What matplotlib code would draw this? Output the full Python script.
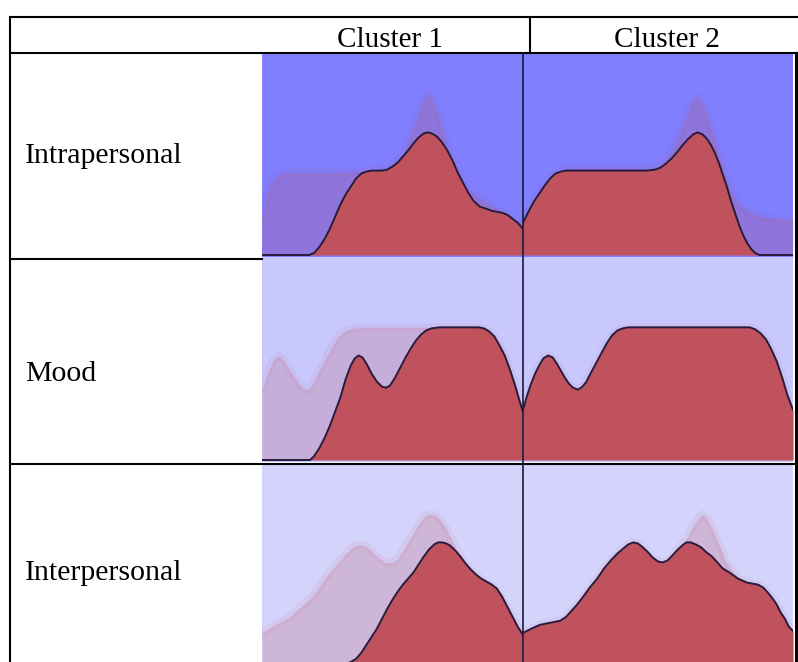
import matplotlib
matplotlib.use("Agg")
import matplotlib.pyplot as plt

# ---------------- data (x: position within cell 0-100, y: relative density) -------------
row_labels = ["Intrapersonal", "Mood", "Interpersonal"]
col_labels = ["Cluster 1", "Cluster 2"]

intra_c1_x = [0, 18, 20, 22, 24, 26, 28, 30, 32, 34, 36, 38, 40, 42, 44, 46, 48, 50, 52, 54, 56, 58, 60, 62, 63.5, 65, 67, 69, 71, 73, 75, 77, 79, 81, 83.5, 86, 88, 90, 92, 94, 96, 98, 100]
intra_c1_y = [0, 0, 0.01, 0.04, 0.08, 0.13, 0.19, 0.25, 0.30, 0.34, 0.38, 0.405, 0.415, 0.42, 0.42, 0.42, 0.425, 0.44, 0.46, 0.49, 0.52, 0.555, 0.585, 0.605, 0.61, 0.605, 0.59, 0.56, 0.52, 0.47, 0.41, 0.36, 0.31, 0.27, 0.24, 0.23, 0.22, 0.215, 0.21, 0.20, 0.18, 0.16, 0.13]
intra_c1_gx = [0, 1.5, 3, 5, 7, 10, 20, 30, 36, 40, 44, 48, 50, 52, 54, 56, 58, 60, 62, 63.5, 65, 67, 69, 71, 73, 75, 78, 82, 86, 90, 95, 100]
intra_c1_gy = [0.18, 0.28, 0.34, 0.38, 0.40, 0.41, 0.41, 0.41, 0.415, 0.42, 0.425, 0.43, 0.45, 0.47, 0.51, 0.56, 0.63, 0.71, 0.77, 0.80, 0.78, 0.72, 0.63, 0.54, 0.47, 0.41, 0.34, 0.29, 0.26, 0.23, 0.19, 0.15]

intra_c2_x = [0, 2, 4, 6, 8, 10, 12, 14, 16, 20, 30, 40, 46, 49, 51, 53, 55, 57, 59, 61, 63, 64.7, 66.5, 68, 69.5, 71, 72.5, 74, 75.5, 77, 78.5, 80, 81.5, 83, 84.5, 86, 87.5, 100]
intra_c2_y = [0.16, 0.215, 0.265, 0.305, 0.345, 0.38, 0.405, 0.415, 0.42, 0.42, 0.42, 0.42, 0.42, 0.425, 0.435, 0.455, 0.48, 0.51, 0.545, 0.575, 0.60, 0.61, 0.60, 0.58, 0.55, 0.51, 0.46, 0.40, 0.34, 0.27, 0.21, 0.15, 0.10, 0.06, 0.03, 0.01, 0, 0]
intra_c2_gx = [0, 2, 4, 6, 8, 10, 12, 14, 16, 20, 30, 40, 48, 51, 54, 56, 58, 60, 62, 64.7, 67, 69, 71, 73, 75, 77, 79, 81, 84, 88, 94, 100]
intra_c2_gy = [0.16, 0.215, 0.265, 0.305, 0.345, 0.38, 0.405, 0.42, 0.43, 0.43, 0.43, 0.43, 0.43, 0.45, 0.49, 0.54, 0.60, 0.67, 0.74, 0.79, 0.74, 0.66, 0.57, 0.48, 0.39, 0.32, 0.27, 0.24, 0.21, 0.19, 0.18, 0.17]

mood_c1_x = [0, 18.4, 20, 22, 24, 26, 28, 30, 32, 34, 35.5, 37, 38.5, 40, 42, 44, 46, 47.5, 49, 51, 53, 55, 57, 59, 61, 63, 65, 68, 72, 78, 83, 85, 87, 89, 91, 93, 95, 97, 99, 100]
mood_c1_y = [0, 0, 0.02, 0.06, 0.11, 0.17, 0.24, 0.31, 0.40, 0.47, 0.505, 0.52, 0.51, 0.48, 0.43, 0.39, 0.365, 0.36, 0.37, 0.41, 0.46, 0.51, 0.555, 0.595, 0.625, 0.645, 0.655, 0.66, 0.66, 0.66, 0.66, 0.655, 0.64, 0.615, 0.57, 0.52, 0.45, 0.37, 0.28, 0.24]
mood_c1_gx = [0, 1.5, 3, 4.5, 6.3, 8, 10, 12, 14, 16, 17.6, 19, 21, 23, 25, 27, 29, 31, 33, 35, 40, 50, 64, 72, 83, 85, 87, 89, 91, 93, 95, 97, 99, 100]
mood_c1_gy = [0.35, 0.41, 0.46, 0.50, 0.52, 0.50, 0.46, 0.42, 0.38, 0.355, 0.35, 0.37, 0.42, 0.47, 0.52, 0.57, 0.61, 0.635, 0.65, 0.655, 0.66, 0.66, 0.66, 0.66, 0.66, 0.655, 0.64, 0.615, 0.57, 0.52, 0.45, 0.37, 0.28, 0.24]

mood_c2_x = [0, 1.5, 3, 4.5, 6, 7.5, 9.3, 11, 12.5, 14, 15.5, 17, 18.5, 20.4, 22, 23.5, 25, 27, 29, 31, 33, 35, 37, 39, 42, 50, 70, 84, 86, 88, 90, 92, 94, 96, 98, 100]
mood_c2_y = [0.25, 0.32, 0.38, 0.43, 0.47, 0.505, 0.52, 0.51, 0.48, 0.445, 0.41, 0.38, 0.36, 0.35, 0.365, 0.39, 0.43, 0.48, 0.53, 0.58, 0.62, 0.645, 0.655, 0.66, 0.66, 0.66, 0.66, 0.66, 0.65, 0.63, 0.60, 0.55, 0.49, 0.41, 0.32, 0.25]
mood_c2_gx = mood_c2_x
mood_c2_gy = mood_c2_y

inter_c1_x = [0, 30, 32, 34, 36, 38, 40, 42, 44, 46, 48, 50, 52, 54, 56, 58, 60, 62, 64, 66, 67.5, 69, 70.5, 72, 74, 76, 78, 80, 82, 84, 86, 88, 90, 92, 94, 96, 98, 100]
inter_c1_y = [0, 0, 0.005, 0.015, 0.03, 0.06, 0.10, 0.14, 0.18, 0.23, 0.28, 0.325, 0.365, 0.40, 0.43, 0.46, 0.50, 0.54, 0.575, 0.60, 0.61, 0.61, 0.605, 0.595, 0.57, 0.54, 0.505, 0.475, 0.45, 0.43, 0.415, 0.40, 0.38, 0.34, 0.29, 0.24, 0.19, 0.15]
inter_c1_gx = [0, 5, 10.7, 14, 18.4, 21, 24, 27.2, 30, 32.5, 35, 37.5, 40, 42.5, 45, 47.5, 50.2, 52, 54, 56.7, 59, 61, 63, 65, 67, 69, 70.9, 73.2, 76, 78.5, 83.5, 88.5, 93.9, 100]
inter_c1_gy = [0.16, 0.20, 0.24, 0.28, 0.33, 0.37, 0.43, 0.48, 0.52, 0.56, 0.59, 0.60, 0.59, 0.56, 0.53, 0.51, 0.51, 0.53, 0.57, 0.63, 0.68, 0.72, 0.745, 0.75, 0.74, 0.71, 0.67, 0.61, 0.54, 0.49, 0.43, 0.39, 0.29, 0.15]

inter_c2_x = [0, 3, 6.3, 10, 13.8, 16, 18, 20, 22.3, 25, 27.5, 30, 32.5, 35, 37.2, 39, 40.9, 42.5, 44, 46, 48, 50, 51.7, 53.5, 55, 57, 59, 60.5, 62.1, 64, 66, 68, 70, 72, 74, 76.5, 79.6, 83, 85, 87, 89, 90.7, 92.5, 94, 95.5, 97, 98.5, 100]
inter_c2_y = [0.16, 0.18, 0.20, 0.21, 0.22, 0.24, 0.27, 0.30, 0.34, 0.39, 0.43, 0.48, 0.52, 0.555, 0.58, 0.60, 0.61, 0.605, 0.59, 0.565, 0.535, 0.515, 0.51, 0.52, 0.54, 0.57, 0.595, 0.61, 0.61, 0.60, 0.585, 0.56, 0.54, 0.51, 0.48, 0.46, 0.43, 0.41, 0.405, 0.40, 0.385, 0.36, 0.33, 0.30, 0.26, 0.23, 0.19, 0.17]
inter_c2_gx = [0, 3, 6.3, 10, 13.8, 16, 18, 20, 22.3, 25, 27.5, 30, 32.5, 35, 37.2, 39, 40.9, 42.5, 44, 46, 48, 50, 51.7, 53.5, 55, 57, 59, 61, 63, 65, 66.5, 68, 70, 72, 73.5, 75, 77, 80, 83, 85, 87, 89, 90.7, 92.5, 94, 95.5, 97, 98.5, 100]
inter_c2_gy = [0.16, 0.18, 0.20, 0.21, 0.22, 0.24, 0.27, 0.30, 0.34, 0.39, 0.43, 0.48, 0.52, 0.555, 0.58, 0.60, 0.61, 0.605, 0.59, 0.565, 0.535, 0.515, 0.51, 0.52, 0.54, 0.57, 0.60, 0.64, 0.69, 0.73, 0.75, 0.73, 0.68, 0.62, 0.57, 0.52, 0.48, 0.43, 0.41, 0.405, 0.40, 0.385, 0.36, 0.33, 0.30, 0.26, 0.23, 0.19, 0.17]

cells = [
    [(intra_c1_x, intra_c1_y, intra_c1_gx, intra_c1_gy), (intra_c2_x, intra_c2_y, intra_c2_gx, intra_c2_gy)],
    [(mood_c1_x, mood_c1_y, mood_c1_gx, mood_c1_gy), (mood_c2_x, mood_c2_y, mood_c2_gx, mood_c2_gy)],
    [(inter_c1_x, inter_c1_y, inter_c1_gx, inter_c1_gy), (inter_c2_x, inter_c2_y, inter_c2_gx, inter_c2_gy)],
]

# ---------------- styling / layout ----------------
W, H = 798, 662
row_bg = ["#7F7FFF", "#C8C8FE", "#D3D3FC"]
red = "#C0525E"
edge = "#2A1A3A"
# (top, bottom, baseline) in pixels
row_px = [(53, 257, 255), (257, 462, 460), (464, 667, 665)]
col_px = [(262, 523), (523, 793)]
font = ["Liberation Serif", "DejaVu Serif"]

fig = plt.figure(figsize=(W / 100, H / 100), dpi=100)
fig.patch.set_facecolor("white")


def px_axes(x0, y0, x1, y1, **kw):
    return fig.add_axes([x0 / W, 1 - y1 / H, (x1 - x0) / W, (y1 - y0) / H], **kw)


for r in range(3):
    for c in range(2):
        x0, x1 = col_px[c]
        y0, y1, yb = row_px[r]
        ax = px_axes(x0, y0, x1, y1)
        ax.set_facecolor(row_bg[r])
        mx, my, gx, gy = cells[r][c]
        # ghost (overall distribution), soft
        ax.plot(gx, gy, color=red, alpha=0.07, lw=6, zorder=1, solid_joinstyle="round")
        ax.fill_between(gx, 0, gy, color=red, alpha=0.22, lw=0, zorder=1)
        # cluster distribution
        ax.fill_between(mx, 0, my, color=red, alpha=1.0, lw=0, zorder=2)
        ax.plot(mx, my, color=edge, lw=1.4, zorder=3, solid_joinstyle="round",
                solid_capstyle="round")
        unit = 201.0
        ax.set_xlim(0, 100)
        ax.set_ylim(-(y1 - yb) / unit, (yb - y0) / unit)
        ax.set_xticks([])
        ax.set_yticks([])
        for s in ax.spines.values():
            s.set_visible(False)

# overlay for table lines and text
ov = fig.add_axes([0, 0, 1, 1], zorder=10)
ov.set_xlim(0, W)
ov.set_ylim(H, 0)
ov.axis("off")
ov.patch.set_alpha(0)

lw = 1.5
ov.plot([10, W], [17, 17], color="black", lw=lw)
ov.plot([10, W], [53, 53], color="black", lw=lw)
ov.plot([530, 530], [17, 53], color="black", lw=lw)
ov.plot([10, 10], [17, H], color="black", lw=lw)
ov.plot([10, 262], [258.5, 258.5], color="black", lw=lw)
ov.plot([10, W], [463.5, 463.5], color="black", lw=lw)
ov.plot([523, 523], [53, H], color="#1A1A3A", lw=1.2)
ov.plot([795.5, 795.5], [53, H], color="black", lw=2.2)

ov.text(390, 47, col_labels[0], ha="center", va="baseline", fontsize=21, family=font, color="black")
ov.text(667, 47, col_labels[1], ha="center", va="baseline", fontsize=21, family=font, color="black")
label_base = [163, 381, 580]
for lab, yb in zip(row_labels, label_base):
    ov.text(25, yb, lab, ha="left", va="baseline", fontsize=21.5, family=font, color="black")

fig.savefig("out.png", dpi=100)
